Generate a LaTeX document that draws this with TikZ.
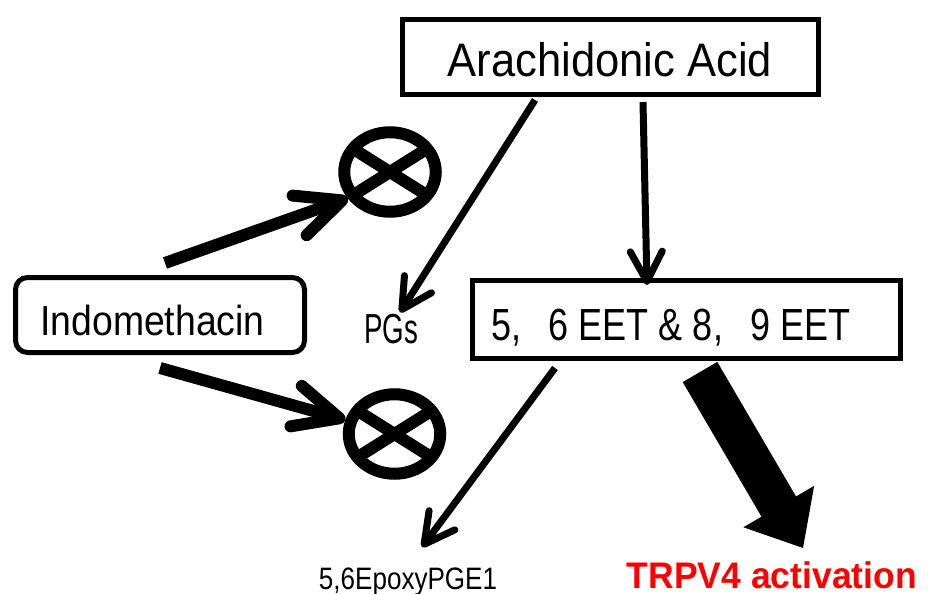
\documentclass[tikz,border=0pt]{standalone}
\usepackage{fontspec}
\setmainfont{Liberation Sans}
\usetikzlibrary{arrows.meta,shapes.geometric,calc}
\begin{document}
\begin{tikzpicture}[x=1pt,y=-1pt,
  box/.style={draw, line width=5pt, inner sep=0pt, text height=40pt, text depth=0pt},
  blocker/.style={ellipse, draw, line width=12pt, minimum width=91.5pt, minimum height=79.5pt, inner sep=0pt,
     path picture={\draw[line width=12pt]
        ($(path picture bounding box.center)+(-70,-44)$) -- ($(path picture bounding box.center)+(70,44)$)
        ($(path picture bounding box.center)+(-70,44)$) -- ($(path picture bounding box.center)+(70,-44)$);}},
  lbl/.style={inner sep=0pt, anchor=base},
  thick arrow/.style={line width=12pt, -{Straight Barb[length=45pt,width=42pt,round]}},
  thin arrow/.style={line width=7pt, -{Straight Barb[length=30pt,width=32pt,round]}},
]
\useasboundingbox (0,0) rectangle (929,594);

% nodes
\node[box, minimum width=416pt, minimum height=75pt] (aa) at (610,57)
  {\fontsize{47pt}{47pt}\selectfont\scalebox{0.926}[1]{Arachidonic Acid}};
\node[box, rounded corners=12pt, minimum width=289pt, minimum height=75pt] (indo) at (160,315)
  {\fontsize{42pt}{42pt}\selectfont\scalebox{0.89}[1]{Indomethacin}\rule{15pt}{0pt}};
\node[box, text height=42pt, minimum width=428pt, minimum height=78pt] (eet) at (686,319)
  {\fontsize{45pt}{45pt}\selectfont\scalebox{0.8}[1]{5,\hspace{0.75em}6 EET \& 8,\hspace{0.75em}9 EET}\rule{30pt}{0pt}};
\node[lbl] (pgs) at (391,343) {\fontsize{42pt}{42pt}\selectfont\scalebox{0.66}[1]{PGs}};
\node[lbl] (epoxy) at (408,589) {\fontsize{31pt}{31pt}\selectfont\scalebox{0.84}[1]{5,6EpoxyPGE1}};
\node[lbl, text=red] (trpv) at (772,588) {\fontsize{37pt}{37pt}\selectfont\bfseries\scalebox{0.96}[1]{TRPV4 activation}};
\node[blocker] (c1) at (390,172) {};
\node[blocker] (c2) at (394.5,434) {};

% connector ends
\coordinate (i1) at ($(indo.north)+(5,-12)$);
\coordinate (i2) at ($(indo.south)+(0,13)$);
\coordinate (a1) at ($(aa.south)+(-75,3)$);
\coordinate (a2) at ($(aa.south)+(33,5)$);
\coordinate (p1) at ($(pgs.north)+(9,-1)$);
\coordinate (e1) at ($(eet.north)+(-39,7.5)$);
\coordinate (e2) at ($(eet.south)+(-131,7.5)$);
\coordinate (x1) at ($(epoxy.north)+(14,-20)$);
\coordinate (b1) at ($(eet.south)+(14,11.5)$);
\coordinate (b2) at ($(trpv.north)+(31,-13)$);
\coordinate (bh) at ($(b2)!48pt!(b1)$);

% connectors
\draw[thick arrow] (i1) -- (c1.212.7);
\draw[thick arrow] (i2) -- (c2.164.9);
\draw[thin arrow] (a1) -- (p1);
\draw[thin arrow] (a2) -- (e1);
\draw[thin arrow] (e2) -- (x1);
\fill ($(b1)!20pt!90:(b2)$) -- ($(bh)!20pt!90:(b2)$) -- ($(bh)!41pt!90:(b2)$) -- (b2)
  -- ($(bh)!41pt!-90:(b2)$) -- ($(bh)!20pt!-90:(b2)$) -- ($(b1)!20pt!-90:(b2)$) -- cycle;
\end{tikzpicture}
\end{document}
